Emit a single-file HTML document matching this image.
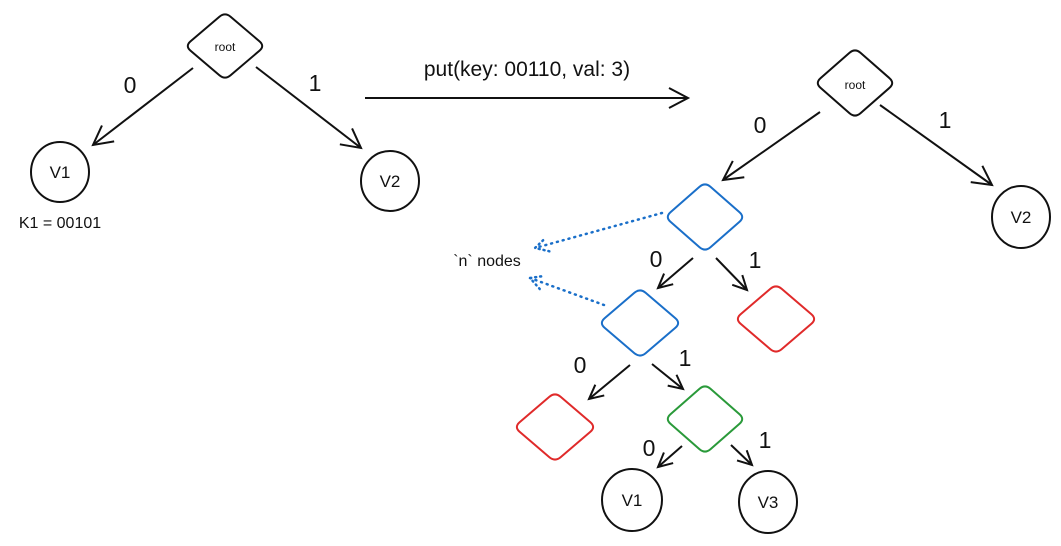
<!DOCTYPE html>
<html><head><meta charset="utf-8"><style>
html,body{margin:0;padding:0;background:#fff}
svg{display:block;font-family:"Liberation Sans",sans-serif}
</style></head><body>
<svg id="s" width="1061" height="546" viewBox="0 0 1061 546">
<defs>
<marker id="ah" markerWidth="26" markerHeight="26" refX="21" refY="13" orient="auto" markerUnits="userSpaceOnUse">
<path d="M2,3 L21,13 L2,23" fill="none" stroke="#111" stroke-width="2"/>
</marker>
<marker id="ahs" markerWidth="18" markerHeight="18" refX="15" refY="9" orient="auto" markerUnits="userSpaceOnUse">
<path d="M1,2 L15,9 L1,16" fill="none" stroke="#111" stroke-width="2"/>
</marker>
<marker id="ahb" markerWidth="18" markerHeight="18" refX="14" refY="9" orient="auto" markerUnits="userSpaceOnUse">
<path d="M1,2 L14,9 L1,16" fill="none" stroke="#1a6fc9" stroke-width="2.5" stroke-dasharray="1 4" stroke-linecap="round"/>
</marker>
</defs>
<g id="diamonds" fill="none" stroke-width="2"></g>
<g fill="none" stroke-width="2">
<g stroke="#111">
<ellipse cx="60" cy="172" rx="29" ry="30"/>
<ellipse cx="390" cy="181" rx="29" ry="30"/>
<ellipse cx="1021" cy="217" rx="29" ry="31"/>
<ellipse cx="632" cy="500" rx="30" ry="31"/>
<ellipse cx="768" cy="502" rx="29" ry="31"/>
</g>
<g stroke="#111" marker-end="url(#ah)">
<line x1="193" y1="68" x2="93" y2="145"/>
<line x1="256" y1="67" x2="361" y2="148"/>
<line x1="365" y1="98" x2="688" y2="98"/>
<line x1="820" y1="112" x2="723" y2="180"/>
<line x1="880" y1="105" x2="992" y2="185"/>
</g>
<g stroke="#111" marker-end="url(#ahs)">
<line x1="693" y1="258" x2="658" y2="288"/>
<line x1="716" y1="258" x2="747" y2="290"/>
<line x1="630" y1="365" x2="589" y2="399"/>
<line x1="652" y1="364" x2="683" y2="389"/>
<line x1="682" y1="446" x2="658" y2="467"/>
<line x1="731" y1="445" x2="752" y2="465"/>
</g>
<g stroke="#1a6fc9" stroke-width="2.5" stroke-dasharray="1 5" stroke-linecap="round" marker-end="url(#ahb)">
<line x1="662" y1="213" x2="535" y2="248"/>
<line x1="604" y1="305" x2="530" y2="278"/>
</g>
</g>
<g fill="#111">
<text x="225" y="51" font-size="12" text-anchor="middle">root</text>
<text x="855" y="89" font-size="12" text-anchor="middle">root</text>
<text x="60" y="178" font-size="17" text-anchor="middle">V1</text>
<text x="390" y="187" font-size="17" text-anchor="middle">V2</text>
<text x="1021" y="223" font-size="17" text-anchor="middle">V2</text>
<text x="632" y="506" font-size="17" text-anchor="middle">V1</text>
<text x="768" y="508" font-size="17" text-anchor="middle">V3</text>
<text x="60" y="228" font-size="16" text-anchor="middle">K1 = 00101</text>
<text x="527" y="76" font-size="21" text-anchor="middle">put(key: 00110, val: 3)</text>
<text x="487" y="266" font-size="16" text-anchor="middle">`n` nodes</text>
<g font-size="23" text-anchor="middle">
<text x="130" y="93">0</text>
<text x="315" y="91">1</text>
<text x="760" y="133">0</text>
<text x="945" y="128">1</text>
<text x="656" y="267">0</text>
<text x="755" y="268">1</text>
<text x="580" y="373">0</text>
<text x="685" y="366">1</text>
<text x="649" y="456">0</text>
<text x="765" y="448">1</text>
</g>
</g>
</svg>
<script>
var g=document.getElementById('diamonds');
var ds=[['left-root-node',225,46,40,34,'#111'],['right-root-node',855,83,40,35,'#111'],
['blue-node-1',705,217,40,35,'#1a6fc9'],['blue-node-2',640,323,41,35,'#1a6fc9'],
['red-node-1',776,319,41,35,'#e02a2a'],['red-node-2',555,427,41,35,'#e02a2a'],
['green-node',705,419,40,35,'#2a9a3a']];
ds.forEach(function(d){
  var cx=d[1],cy=d[2],w=d[3],h=d[4],t=0.14;
  var P=[[cx,cy-h],[cx+w,cy],[cx,cy+h],[cx-w,cy]];
  var s='';
  for(var i=0;i<4;i++){
    var p=P[i],a=P[(i+3)%4],b=P[(i+1)%4];
    var p1=[p[0]+(a[0]-p[0])*t,p[1]+(a[1]-p[1])*t],p2=[p[0]+(b[0]-p[0])*t,p[1]+(b[1]-p[1])*t];
    s+=(i?'L':'M')+p1[0]+','+p1[1]+' Q'+p[0]+','+p[1]+' '+p2[0]+','+p2[1]+' ';
  }
  var el=document.createElementNS('http://www.w3.org/2000/svg','path');
  el.setAttribute('d',s+'Z');
  el.setAttribute('stroke',d[5]);
  
  
  g.appendChild(el);
});
</script>
</body></html>
